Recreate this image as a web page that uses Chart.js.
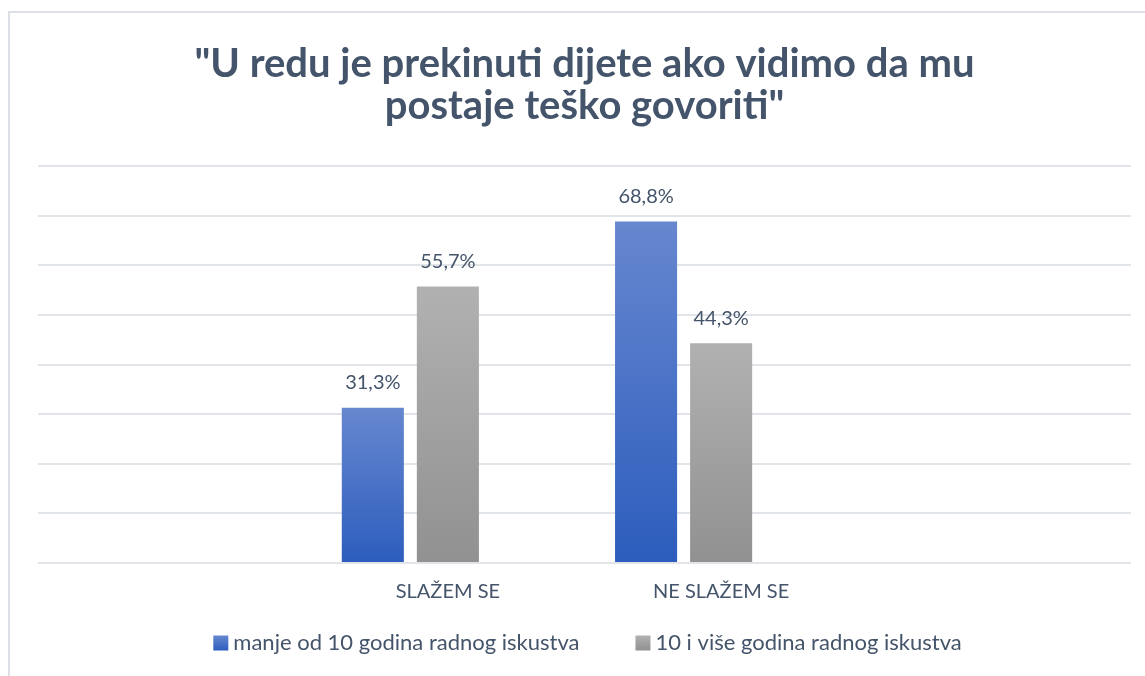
<!DOCTYPE html>
<html>
<head>
<meta charset="utf-8">
<script src="https://cdn.jsdelivr.net/npm/chart.js@4.4.1/dist/chart.umd.min.js"></script>
<style>
  html, body { margin: 0; padding: 0; background: #fff; }
  #wrap { width: 1145px; height: 676px; position: relative; }
</style>
</head>
<body>
<div id="wrap"><canvas id="chart" width="1145" height="676"></canvas></div>
<script>
// Chart data
const categories = ["", "SLAŽEM SE", "NE SLAŽEM SE", ""];
const lessThan10 = [null, 31.3, 68.8, null];
const tenOrMore = [null, 55.7, 44.3, null];
const emptySeries = [null, null, null, null];
const seriesNames = ["manje od 10 godina radnog iskustva", "10 i više godina radnog iskustva", ""];
const titleLines = ["\"U redu je prekinuti dijete ako vidimo da mu", "postaje teško govoriti\""];

const TEXT = "#44546A";
const FONT = "Lato, 'Open Sans', sans-serif";
const BLUE = ["#6787CF", "#2C5DBD"];
const GRAY = ["#B1B1B1", "#919191"];

// vertical gradient per bar, light at top, dark at base
function barGradient(c, cols) {
  const chart = c.chart;
  if (!chart.chartArea || c.dataIndex === undefined || c.raw == null) return cols[1];
  const y = chart.scales.y;
  const g = chart.ctx.createLinearGradient(0, y.getPixelForValue(c.raw), 0, y.getPixelForValue(0));
  g.addColorStop(0, cols[0]);
  g.addColorStop(1, cols[1]);
  return g;
}

const fmtPct = (v) => v.toFixed(1).replace(".", ",") + "%";

// outer frame of the chart object
const framePlugin = {
  id: "frame",
  beforeDraw(chart) {
    const ctx = chart.ctx;
    ctx.save();
    ctx.strokeStyle = "#DCDFE5";
    ctx.lineWidth = 2;
    ctx.strokeRect(9, 12, 1200, 720);
    ctx.restore();
  },
};

// value labels above bars
const valueLabels = {
  id: "valueLabels",
  afterDatasetsDraw(chart) {
    const ctx = chart.ctx;
    ctx.save();
    ctx.font = "20px " + FONT;
    ctx.fillStyle = TEXT;
    ctx.textAlign = "center";
    ctx.textBaseline = "middle";
    chart.data.datasets.forEach((ds, i) => {
      const meta = chart.getDatasetMeta(i);
      meta.data.forEach((bar, j) => {
        const v = ds.data[j];
        if (v == null) return;
        ctx.fillText(fmtPct(v), bar.x, bar.y - 25);
      });
    });
    ctx.restore();
  },
};

// legend drawn by hand: small square, short gap, text
const bottomLegend = {
  id: "bottomLegend",
  afterDraw(chart) {
    const ctx = chart.ctx;
    const items = [
      { text: seriesNames[0], cols: BLUE },
      { text: seriesNames[1], cols: GRAY },
    ];
    const box = 15, gap = 5, spacing = 56, cy = 643;
    ctx.save();
    ctx.font = "22px " + FONT;
    const widths = items.map(it => box + gap + ctx.measureText(it.text).width);
    const total = widths.reduce((s, w) => s + w, 0) + spacing * (items.length - 1);
    let x = (chart.chartArea.left + chart.chartArea.right) / 2 - total / 2 + 3;
    items.forEach((it, i) => {
      const g = ctx.createLinearGradient(0, cy - box / 2, 0, cy + box / 2);
      g.addColorStop(0, it.cols[0]);
      g.addColorStop(1, it.cols[1]);
      ctx.fillStyle = g;
      ctx.fillRect(x, cy - box / 2, box, box);
      ctx.fillStyle = TEXT;
      ctx.textBaseline = "middle";
      ctx.textAlign = "left";
      ctx.fillText(it.text, x + box + gap, cy);
      x += widths[i] + spacing;
    });
    ctx.restore();
  },
};

new Chart(document.getElementById("chart"), {
  type: "bar",
  data: {
    labels: categories,
    datasets: [
      { label: seriesNames[0], data: lessThan10, backgroundColor: (c) => barGradient(c, BLUE) },
      { label: seriesNames[1], data: tenOrMore, backgroundColor: (c) => barGradient(c, GRAY) },
      { label: seriesNames[2], data: emptySeries, backgroundColor: "#FFC000" },
    ],
  },
  options: {
    responsive: false,
    animation: false,
    categoryPercentage: 0.824,
    barPercentage: 0.827,
    layout: { padding: { left: 38, right: 14, top: 30, bottom: 63 } },
    scales: {
      x: {
        grid: { display: false },
        border: { display: false },
        ticks: { color: TEXT, font: { family: FONT, size: 20 }, padding: 9, maxRotation: 0 },
      },
      y: {
        min: 0,
        max: 80,
        ticks: { display: false, stepSize: 10 },
        border: { display: false },
        grid: { color: "#E1E4E9", lineWidth: 2, drawTicks: false },
      },
    },
    plugins: {
      title: {
        display: true,
        text: titleLines,
        color: TEXT,
        font: { family: FONT, size: 40, weight: "bold", lineHeight: 1.05 },
        padding: { top: 13, bottom: 39 },
      },
      legend: { display: false },
      tooltip: { enabled: false },
    },
  },
  plugins: [framePlugin, valueLabels, bottomLegend],
});
</script>
</body>
</html>
